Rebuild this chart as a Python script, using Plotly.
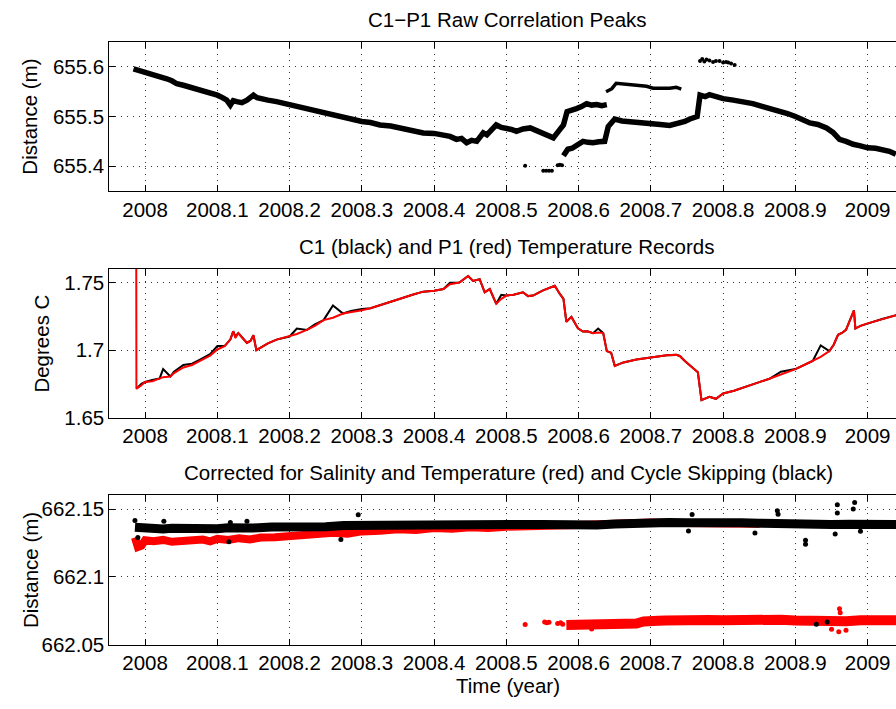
import plotly.graph_objects as go

# ---------------- DATA ----------------
# Panel 1: raw correlation peaks (year, distance m)
p1_main_x = [2007.984, 2008.0, 2008.008, 2008.016, 2008.023, 2008.030, 2008.037, 2008.044, 2008.053, 2008.062,
             2008.070, 2008.081, 2008.090, 2008.1, 2008.107, 2008.113, 2008.118, 2008.122, 2008.127, 2008.134,
             2008.141, 2008.146, 2008.15, 2008.155, 2008.159, 2008.170, 2008.182, 2008.191, 2008.2, 2008.21,
             2008.219, 2008.233, 2008.247, 2008.26, 2008.274, 2008.287, 2008.3, 2008.312, 2008.325, 2008.34,
             2008.353, 2008.37, 2008.385, 2008.4, 2008.413, 2008.422, 2008.431, 2008.438, 2008.445, 2008.452,
             2008.459, 2008.468, 2008.473, 2008.480, 2008.486, 2008.493, 2008.5, 2008.507, 2008.514, 2008.523,
             2008.533, 2008.542, 2008.551, 2008.558, 2008.565, 2008.572, 2008.579, 2008.584, 2008.590, 2008.597,
             2008.604, 2008.611, 2008.618, 2008.625, 2008.632, 2008.639]
p1_main_y = [655.596, 655.589, 655.588, 655.582, 655.580, 655.576, 655.572, 655.566, 655.563, 655.559,
             655.556, 655.553, 655.548, 655.543, 655.538, 655.533, 655.523, 655.532, 655.530, 655.528,
             655.533, 655.537, 655.543, 655.538, 655.536, 655.533, 655.530, 655.527, 655.524, 655.520,
             655.516, 655.512, 655.507, 655.502, 655.497, 655.495, 655.490, 655.488, 655.483, 655.481,
             655.477, 655.473, 655.467, 655.466, 655.464, 655.460, 655.454, 655.456, 655.447, 655.452,
             655.450, 655.467, 655.463, 655.475, 655.483, 655.478, 655.477, 655.474, 655.470, 655.475,
             655.477, 655.472, 655.467, 655.462, 655.457, 655.470, 655.483, 655.510, 655.514, 655.516,
             655.520, 655.526, 655.523, 655.524, 655.522, 655.524]
p1_low_x = [2008.579, 2008.585, 2008.591, 2008.597, 2008.606, 2008.613, 2008.620, 2008.628, 2008.636, 2008.641,
            2008.650, 2008.660, 2008.671, 2008.685, 2008.700, 2008.713, 2008.726, 2008.740, 2008.747, 2008.754,
            2008.764, 2008.768, 2008.775, 2008.781, 2008.790, 2008.800, 2008.814, 2008.828, 2008.841, 2008.855,
            2008.866, 2008.878, 2008.889, 2008.900, 2008.910, 2008.920, 2008.931, 2008.943, 2008.952, 2008.961,
            2008.970, 2008.980, 2008.990, 2009.0, 2009.011, 2009.021, 2009.030, 2009.039]
p1_low_y = [655.421, 655.434, 655.436, 655.441, 655.450, 655.448, 655.447, 655.449, 655.450, 655.480,
            655.495, 655.491, 655.489, 655.487, 655.485, 655.484, 655.482, 655.487, 655.490, 655.495,
            655.500, 655.543, 655.540, 655.544, 655.540, 655.536, 655.533, 655.530, 655.526, 655.520,
            655.516, 655.510, 655.506, 655.500, 655.494, 655.487, 655.484, 655.477, 655.468, 655.454,
            655.450, 655.444, 655.441, 655.437, 655.436, 655.434, 655.430, 655.424]
p1_mid_x = [2008.638, 2008.646, 2008.652, 2008.671, 2008.694, 2008.703, 2008.712, 2008.726, 2008.735, 2008.742]
p1_mid_y = [655.550, 655.556, 655.567, 655.564, 655.561, 655.557, 655.557, 655.557, 655.559, 655.555]
p1_top_x = [2008.768, 2008.771, 2008.774, 2008.777, 2008.781, 2008.786, 2008.790, 2008.795, 2008.800, 2008.804,
            2008.807, 2008.811, 2008.816]
p1_top_y = [655.612, 655.616, 655.611, 655.615, 655.613, 655.610, 655.612, 655.612, 655.609, 655.610,
            655.609, 655.607, 655.604]
p1_iso_x = [2008.526, 2008.551, 2008.555, 2008.559, 2008.563, 2008.571, 2008.574, 2008.577]
p1_iso_y = [655.401, 655.391, 655.391, 655.391, 655.391, 655.402, 655.403, 655.402]

# Panel 2: temperature records (year, degrees C)
p2_x = [2007.9875, 2007.988, 2007.995, 2008.0, 2008.01, 2008.02, 2008.025, 2008.035, 2008.04, 2008.053,
        2008.065, 2008.076, 2008.09, 2008.1, 2008.11, 2008.118, 2008.122, 2008.125, 2008.129, 2008.135,
        2008.141, 2008.146, 2008.15, 2008.154, 2008.159, 2008.17, 2008.182, 2008.19, 2008.2, 2008.21,
        2008.224, 2008.235, 2008.247, 2008.26, 2008.274, 2008.285, 2008.3, 2008.312, 2008.325, 2008.34,
        2008.353, 2008.37, 2008.385, 2008.4, 2008.413, 2008.422, 2008.435, 2008.447, 2008.454, 2008.463,
        2008.47, 2008.477, 2008.486, 2008.493, 2008.5, 2008.51, 2008.523, 2008.53, 2008.537, 2008.55,
        2008.562, 2008.567, 2008.574, 2008.579, 2008.583, 2008.59, 2008.599, 2008.606, 2008.612, 2008.62,
        2008.627, 2008.634, 2008.639, 2008.645, 2008.65, 2008.662, 2008.68, 2008.7, 2008.722, 2008.735,
        2008.74, 2008.747, 2008.758, 2008.765, 2008.77, 2008.781, 2008.79, 2008.8, 2008.815, 2008.832,
        2008.848, 2008.864, 2008.88, 2008.9, 2008.912, 2008.924, 2008.935, 2008.947, 2008.953, 2008.959,
        2008.965, 2008.97, 2008.981, 2008.983, 2008.99, 2009.0, 2009.02, 2009.04]
p1_temp = [1.900, 1.6715, 1.674, 1.6764, 1.677, 1.679, 1.680, 1.6805, 1.683, 1.6872,
           1.689, 1.692, 1.696, 1.7005, 1.703, 1.7078, 1.714, 1.709, 1.7126, 1.709,
           1.7054, 1.707, 1.711, 1.700, 1.7017, 1.705, 1.7078, 1.709, 1.7101, 1.712,
           1.715, 1.718, 1.7222, 1.724, 1.7271, 1.728, 1.7295, 1.731, 1.7331, 1.736,
           1.738, 1.741, 1.7433, 1.744, 1.7452, 1.7488, 1.750, 1.7549, 1.7512, 1.7525,
           1.7428, 1.7452, 1.7343, 1.738, 1.7404, 1.741, 1.7428, 1.740, 1.7404, 1.744,
           1.7464, 1.7476, 1.7416, 1.738, 1.721, 1.7246, 1.7162, 1.7138, 1.714, 1.7126,
           1.713, 1.7126, 1.6993, 1.6981, 1.6884, 1.6909, 1.693, 1.6945, 1.6962, 1.6965,
           1.6957, 1.692, 1.6872, 1.6836, 1.663, 1.6655, 1.664, 1.6679, 1.670, 1.6728,
           1.676, 1.6788, 1.682, 1.686, 1.689, 1.692, 1.695, 1.6993, 1.704, 1.7114,
           1.713, 1.715, 1.7295, 1.716, 1.718, 1.7198, 1.723, 1.7259]
c1_temp = [1.6715, 1.6715, 1.675, 1.6764, 1.678, 1.679, 1.686, 1.6805, 1.684, 1.689,
           1.690, 1.693, 1.697, 1.703, 1.703, 1.7078, 1.714, 1.710, 1.7126, 1.709,
           1.7054, 1.707, 1.711, 1.700, 1.7017, 1.705, 1.7078, 1.709, 1.7101, 1.716,
           1.715, 1.719, 1.7222, 1.733, 1.7271, 1.729, 1.7305, 1.731, 1.7331, 1.736,
           1.738, 1.741, 1.7433, 1.744, 1.7452, 1.7498, 1.750, 1.7549, 1.7512, 1.7525,
           1.7428, 1.7452, 1.7343, 1.741, 1.7404, 1.741, 1.7428, 1.740, 1.7404, 1.744,
           1.7464, 1.7476, 1.7416, 1.738, 1.721, 1.7246, 1.7162, 1.7138, 1.714, 1.7126,
           1.716, 1.7126, 1.6993, 1.6981, 1.6884, 1.6909, 1.693, 1.6945, 1.6962, 1.6965,
           1.6957, 1.692, 1.6872, 1.6836, 1.663, 1.6655, 1.664, 1.6679, 1.670, 1.6728,
           1.676, 1.6788, 1.684, 1.686, 1.689, 1.692, 1.7035, 1.6993, 1.704, 1.7114,
           1.713, 1.715, 1.7295, 1.716, 1.718, 1.7198, 1.723, 1.7259]

# Panel 3: corrected distances (year, distance m)
red_up_x = [2007.986, 2007.99, 2007.995, 2008.0, 2008.012, 2008.025, 2008.037, 2008.05, 2008.065, 2008.08,
            2008.09, 2008.1, 2008.115, 2008.13, 2008.145, 2008.16, 2008.18, 2008.2, 2008.215, 2008.23,
            2008.245, 2008.26, 2008.28, 2008.3, 2008.325, 2008.35, 2008.375, 2008.4, 2008.425, 2008.45,
            2008.475, 2008.5, 2008.6, 2008.7, 2008.8, 2008.85]
red_up_y = [662.129, 662.122, 662.123, 662.127, 662.1262, 662.1272, 662.1258, 662.1265, 662.1268, 662.1275,
            662.1262, 662.128, 662.1272, 662.1285, 662.1275, 662.129, 662.1292, 662.130, 662.1298, 662.131,
            662.1305, 662.1325, 662.1318, 662.1335, 662.1340, 662.135, 662.1345, 662.136, 662.1355, 662.1365,
            662.1360, 662.137, 662.1382, 662.1400, 662.1394, 662.1392]
red_low_x = [2008.583, 2008.6, 2008.61, 2008.62, 2008.63, 2008.64, 2008.65, 2008.66, 2008.67, 2008.68,
             2008.69, 2008.7, 2008.71, 2008.72, 2008.735, 2008.75, 2008.765, 2008.78, 2008.8, 2008.815,
             2008.83, 2008.845, 2008.86, 2008.88, 2008.9, 2008.915, 2008.93, 2008.95, 2008.97, 2008.99,
             2009.01, 2009.025, 2009.04]
red_low_y = [662.0645, 662.0645, 662.0652, 662.0650, 662.0644, 662.0648, 662.0650, 662.0645, 662.0652, 662.0655,
             662.0670, 662.0680, 662.0676, 662.0678, 662.0683, 662.0680, 662.0677, 662.0682, 662.0680, 662.0684,
             662.0682, 662.0678, 662.0680, 662.0683, 662.0678, 662.0673, 662.0675, 662.0670, 662.0672, 662.0680,
             662.0685, 662.0681, 662.0680]
red_dot_x = [2008.526, 2008.553, 2008.556, 2008.559, 2008.571, 2008.575, 2008.578, 2008.618,
             2008.961, 2008.962, 2008.960, 2008.970, 2008.950]
red_dot_y = [662.0648, 662.0667, 662.0660, 662.0665, 662.0655, 662.0660, 662.0650, 662.0615,
             662.0764, 662.0735, 662.0594, 662.0605, 662.0612]
blk_x = [2007.986, 2008.0, 2008.012, 2008.025, 2008.037, 2008.05, 2008.065, 2008.08, 2008.1, 2008.115,
         2008.13, 2008.15, 2008.175, 2008.2, 2008.225, 2008.25, 2008.275, 2008.3, 2008.325, 2008.35,
         2008.375, 2008.4, 2008.425, 2008.45, 2008.475, 2008.5, 2008.525, 2008.55, 2008.575, 2008.6,
         2008.625, 2008.65, 2008.675, 2008.7, 2008.725, 2008.75, 2008.775, 2008.8, 2008.825, 2008.85,
         2008.875, 2008.9, 2008.925, 2008.95, 2008.975, 2009.0, 2009.02, 2009.04]
blk_y = [662.1365, 662.1355, 662.1362, 662.1352, 662.1358, 662.1355, 662.1350, 662.1358, 662.1355, 662.1362,
         662.1356, 662.136, 662.1368, 662.1365, 662.1372, 662.137, 662.1378, 662.138, 662.1386, 662.1385,
         662.1380, 662.1385, 662.1388, 662.1385, 662.1392, 662.139, 662.1386, 662.1385, 662.1380, 662.1385,
         662.1382, 662.139, 662.1395, 662.1405, 662.1400, 662.1398, 662.1393, 662.1395, 662.1398, 662.1395,
         662.1390, 662.139, 662.1384, 662.1385, 662.1388, 662.139, 662.1392, 662.1385]
blk_dot_x = [2007.986, 2007.99, 2008.026, 2008.116, 2008.118, 2008.141, 2008.271, 2008.295, 2008.752, 2008.757,
             2008.844, 2008.875, 2008.876, 2008.914, 2008.914, 2008.955, 2008.958, 2008.958, 2008.980, 2008.982,
             2008.990, 2008.929, 2008.944]
blk_dot_y = [662.1415, 662.1290, 662.1409, 662.1259, 662.1401, 662.1410, 662.1275, 662.1457, 662.1338, 662.1460,
             662.1324, 662.1488, 662.1462, 662.1270, 662.1240, 662.1315, 662.1532, 662.1470, 662.1501, 662.1549,
             662.1336, 662.0650, 662.0667]

x_ticks = [2008, 2008.1, 2008.2, 2008.3, 2008.4, 2008.5, 2008.6, 2008.7, 2008.8, 2008.9, 2009]
x_tick_text = ["2008", "2008.1", "2008.2", "2008.3", "2008.4", "2008.5", "2008.6", "2008.7", "2008.8", "2008.9", "2009"]
y1_ticks = [655.4, 655.5, 655.6]
y2_ticks = [1.65, 1.7, 1.75]
y3_ticks = [662.05, 662.1, 662.15]

# ---------------- FIGURE ----------------
W, H = 896, 709
FONT = "Liberation Sans, Arial, Helvetica, sans-serif"
FS = 20.5

fig = go.Figure()

# panel 1
fig.add_trace(go.Scatter(x=p1_main_x, y=p1_main_y, mode="lines", line=dict(color="black", width=5.5),
                         xaxis="x", yaxis="y"))
fig.add_trace(go.Scatter(x=p1_low_x, y=p1_low_y, mode="lines", line=dict(color="black", width=5.5),
                         xaxis="x", yaxis="y"))
fig.add_trace(go.Scatter(x=p1_mid_x, y=p1_mid_y, mode="lines", line=dict(color="black", width=3.5),
                         xaxis="x", yaxis="y"))
fig.add_trace(go.Scatter(x=p1_top_x, y=p1_top_y, mode="markers", marker=dict(color="black", size=4),
                         xaxis="x", yaxis="y"))
fig.add_trace(go.Scatter(x=p1_iso_x, y=p1_iso_y, mode="markers", marker=dict(color="black", size=4),
                         xaxis="x", yaxis="y"))

# panel 2
fig.add_trace(go.Scatter(x=p2_x[1:], y=c1_temp[1:], mode="lines", line=dict(color="black", width=2),
                         xaxis="x2", yaxis="y2"))
fig.add_trace(go.Scatter(x=p2_x, y=p1_temp, mode="lines", line=dict(color="red", width=2),
                         xaxis="x2", yaxis="y2"))

# panel 3
fig.add_trace(go.Scatter(x=red_up_x, y=red_up_y, mode="lines", line=dict(color="red", width=8),
                         xaxis="x3", yaxis="y3"))
fig.add_trace(go.Scatter(x=red_low_x, y=red_low_y, mode="lines", line=dict(color="red", width=10),
                         xaxis="x3", yaxis="y3"))
fig.add_trace(go.Scatter(x=red_dot_x, y=red_dot_y, mode="markers", marker=dict(color="red", size=5),
                         xaxis="x3", yaxis="y3"))
fig.add_trace(go.Scatter(x=blk_x, y=blk_y, mode="lines", line=dict(color="black", width=9),
                         xaxis="x3", yaxis="y3"))
fig.add_trace(go.Scatter(x=blk_dot_x, y=blk_dot_y, mode="markers", marker=dict(color="black", size=5),
                         xaxis="x3", yaxis="y3"))

x_left = 109.3 / W
xrange = [2007.9505, 2009.0392]


def xax(anchor):
    return dict(domain=[x_left, 1], range=xrange, anchor=anchor, tickmode="array", tickvals=x_ticks,
                ticktext=x_tick_text, ticks="inside", ticklen=6, tickcolor="black", showline=True,
                linecolor="black", linewidth=1, mirror="ticks", showgrid=True, gridcolor="#333",
                griddash="1px,5px", gridwidth=1, zeroline=False,
                tickfont=dict(family=FONT, size=FS, color="black"))


def yax(anchor, dom, rng, ticks):
    return dict(domain=dom, range=rng, anchor=anchor, tickmode="array", tickvals=ticks,
                ticktext=[("%g" % t) for t in ticks], ticks="inside", ticklen=6, tickcolor="black",
                showline=True, linecolor="black", linewidth=1, mirror=False, showgrid=True,
                gridcolor="#333", griddash="1px,5px", gridwidth=1, zeroline=False,
                tickfont=dict(family=FONT, size=FS, color="black"))


def dom(top_px, bot_px):
    return [1 - bot_px / H, 1 - top_px / H]


fig.update_layout(
    width=W, height=H, margin=dict(l=0, r=0, t=0, b=0), showlegend=False,
    paper_bgcolor="white", plot_bgcolor="white",
    xaxis=xax("y"), xaxis2=xax("y2"), xaxis3=xax("y3"),
    yaxis=yax("x", dom(42.7, 194.0), [655.35, 655.65], y1_ticks),
    yaxis2=yax("x2", dom(273.3, 424.3), [1.65, 1.76], y2_ticks),
    yaxis3=yax("x3", dom(503.3, 654.7), [662.05, 662.16], y3_ticks),
)


def ann(text, px, py, angle=0):
    fig.add_annotation(text=text, x=px / W, y=1 - py / H, xref="paper", yref="paper",
                       xanchor="center", yanchor="middle", showarrow=False, textangle=angle,
                       font=dict(family=FONT, size=FS, color="black"))


ann("C1\u2212P1 Raw Correlation Peaks", 507, 20)
ann("C1 (black) and P1 (red) Temperature Records", 507, 250)
ann("Corrected for Salinity and Temperature (red) and Cycle Skipping (black)", 508, 480)
ann("Time (year)", 508, 696)
ann("Distance (m)", 30, 118.5, -90)
ann("Degrees C", 42, 349, -90)
ann("Distance (m)", 30, 579, -90)

fig.write_html("out.html")
